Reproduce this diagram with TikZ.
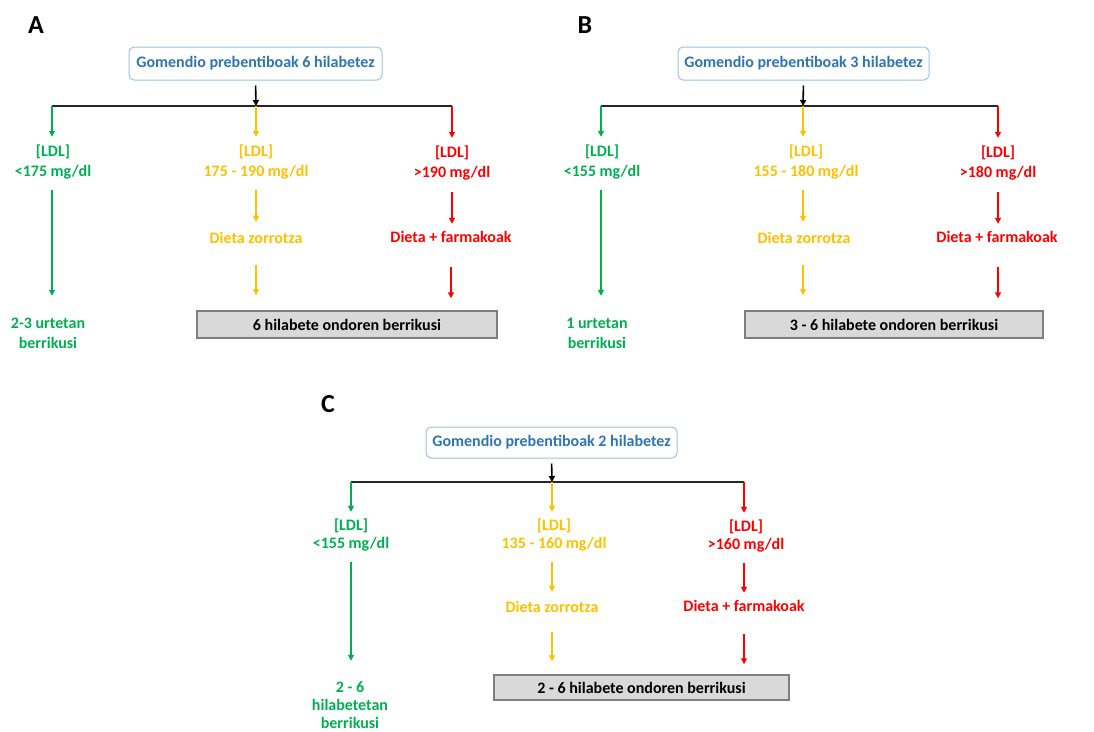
\documentclass[tikz,border=0pt]{standalone}
\usepackage{fontspec}
\setmainfont{Carlito}
\usetikzlibrary{arrows.meta}
\definecolor{cg}{HTML}{00B050}
\definecolor{cy}{HTML}{FFC000}
\definecolor{cr}{HTML}{FF0000}
\definecolor{tblue}{HTML}{2E75B6}
\definecolor{bblue}{HTML}{9DC3E6}
\definecolor{gfill}{HTML}{D9D9D9}
\definecolor{gline}{HTML}{7F7F7F}
\begin{document}
\begin{tikzpicture}[x=1pt,y=-1pt,
  txt/.style={font=\bfseries\fontsize{16}{20}\selectfont, align=center, inner sep=0pt, minimum height=40pt},
  txtc/.style={font=\bfseries\fontsize{16}{18}\selectfont, align=center, inner sep=0pt, minimum height=36pt},
  one/.style={minimum height=20pt},
  panel/.style={font=\bfseries\fontsize{26}{30}\selectfont, inner sep=0pt},
  topbox/.style={draw=bblue, line width=1pt, rounded corners=5pt, fill=white, text=tblue,
    font=\bfseries\fontsize{16}{20}\selectfont, inner sep=0pt, minimum height=33pt},
  graybox/.style={draw=gline, line width=1.5pt, fill=gfill, text=black,
    font=\bfseries\fontsize{16}{20}\selectfont, inner sep=0pt, minimum height=27pt},
  arr/.style={-{Triangle[length=6pt,width=6pt]}, line width=1.6pt},
  hline/.style={line width=1.8pt, black!85}]
\useasboundingbox (0,0) rectangle (1094,731);

%%%%%%%%%%%%%%%% Panel A
\node[panel] (pA) at (36,25) {A};
\node[topbox, minimum width=253pt] (tA) at (255.5,63.5) {Gomendio prebentiboak 6 hilabetez};
\coordinate (jA) at (256,106);
\coordinate (lA) at (52,106);
\coordinate (rA) at (452,106);
\draw[hline] (lA) -- (rA);
\draw[arr, black, shorten <=5pt] (tA.south) -- (jA);
\node[txt, text=cg] (gA1) at (53,162) {[LDL]\\<175 mg/dl};
\node[txt, text=cy] (yA1) at (256,162) {[LDL]\\175 - 190 mg/dl};
\node[txt, text=cr] (rA1) at (452,163) {[LDL]\\>190 mg/dl};
\node[txt, one, text=cy] (yA2) at (256,238) {Dieta zorrotza};
\node[txt, one, text=cr] (rA2) at (451,237) {Dieta + farmakoak};
\node[graybox, minimum width=300pt] (bA) at (347,324.5) {6 hilabete ondoren berrikusi};
\node[txt, text=cg] (gA2) at (48,333.5) {2-3 urtetan\\berrikusi};
\draw[arr, cg, shorten >=5pt] (lA) -- (lA |- gA1.north);
\draw[arr, cy, shorten >=5pt] (jA) -- (jA |- yA1.north);
\draw[arr, cr, shorten >=5pt] (rA) -- (rA |- rA1.north);
\draw[arr, cg, shorten <=8pt, shorten >=17.5pt] (lA |- gA1.south) -- (lA |- gA2.north);
\draw[arr, cy, shorten <=8pt, shorten >=6pt] (jA |- yA1.south) -- (jA |- yA2.north);
\draw[arr, cr, shorten <=9pt, shorten >=3pt] (rA1.south) -- (rA1.south |- rA2.north);
\draw[arr, cy, shorten <=17pt, shorten >=15pt] (yA2.south) -- (yA2.south |- bA.north);
\draw[arr, cr, shorten <=20pt, shorten >=12pt] (rA2.south) -- (rA2.south |- bA.north);

%%%%%%%%%%%%%%%% Panel B
\node[panel] (pB) at (585,25) {B};
\node[topbox, minimum width=251pt] (tB) at (803.5,63.5) {Gomendio prebentiboak 3 hilabetez};
\coordinate (jB) at (803,106);
\coordinate (lB) at (601,106);
\coordinate (rB) at (998,106);
\draw[hline] (lB) -- (rB);
\draw[arr, black, shorten <=5pt] (tB.south) -- (jB);
\node[txt, text=cg] (gB1) at (602,162) {[LDL]\\<155 mg/dl};
\node[txt, text=cy] (yB1) at (806,162) {[LDL]\\155 - 180 mg/dl};
\node[txt, text=cr] (rB1) at (998,163) {[LDL]\\>180 mg/dl};
\node[txt, one, text=cy] (yB2) at (804,238) {Dieta zorrotza};
\node[txt, one, text=cr] (rB2) at (997,237) {Dieta + farmakoak};
\node[graybox, minimum width=298pt] (bB) at (894,324.5) {3 - 6 hilabete ondoren berrikusi};
\node[txt, text=cg] (gB2) at (597,333.5) {1 urtetan\\berrikusi};
\draw[arr, cg, shorten >=5pt] (lB) -- (lB |- gB1.north);
\draw[arr, cy, shorten >=5pt] (jB) -- (jB |- yB1.north);
\draw[arr, cr, shorten >=5pt] (rB) -- (rB |- rB1.north);
\draw[arr, cg, shorten <=8pt, shorten >=17.5pt] (lB |- gB1.south) -- (lB |- gB2.north);
\draw[arr, cy, shorten <=8pt, shorten >=6pt] (jB |- yB1.south) -- (jB |- yB2.north);
\draw[arr, cr, shorten <=9pt, shorten >=3pt] (rB |- rB1.south) -- (rB |- rB2.north);
\draw[arr, cy, shorten <=17pt, shorten >=15pt] (jB |- yB2.south) -- (jB |- bB.north);
\draw[arr, cr, shorten <=20pt, shorten >=12pt] (rB |- rB2.south) -- (rB |- bB.north);

%%%%%%%%%%%%%%%% Panel C
\node[panel] (pC) at (328,404) {C};
\node[topbox, minimum width=251pt, minimum height=31pt] (tC) at (551.5,442.5) {Gomendio prebentiboak 2 hilabetez};
\coordinate (jC) at (552,482);
\coordinate (lC) at (351,482);
\coordinate (rC) at (744,482);
\draw[hline] (lC) -- (rC);
\draw[arr, black, shorten <=5pt] (tC.south) -- (jC);
\node[txtc, text=cg] (gC1) at (351,535) {[LDL]\\<155 mg/dl};
\node[txtc, text=cy] (yC1) at (554,535) {[LDL]\\135 - 160 mg/dl};
\node[txtc, text=cr] (rC1) at (746,536) {[LDL]\\>160 mg/dl};
\node[txtc, one, text=cy] (yC2) at (552,607) {Dieta zorrotza};
\node[txtc, one, text=cr] (rC2) at (744,606) {Dieta + farmakoak};
\node[graybox, minimum width=295pt, minimum height=25pt] (bC) at (641.5,687.5) {2 - 6 hilabete ondoren berrikusi};
\node[txtc, minimum height=54pt, text=cg] (gC2) at (350,705) {2 - 6\\hilabetetan\\berrikusi};
\draw[arr, cg, shorten >=5pt] (lC) -- (lC |- gC1.north);
\draw[arr, cy, shorten >=5pt] (jC) -- (jC |- yC1.north);
\draw[arr, cr, shorten >=5pt] (rC) -- (rC |- rC1.north);
\draw[arr, cg, shorten <=9pt, shorten >=17pt] (lC |- gC1.south) -- (lC |- gC2.north);
\draw[arr, cy, shorten <=9pt, shorten >=5pt] (jC |- yC1.south) -- (jC |- yC2.north);
\draw[arr, cr, shorten <=9pt, shorten >=3pt] (rC |- rC1.south) -- (rC |- rC2.north);
\draw[arr, cy, shorten <=15pt, shorten >=13pt] (jC |- yC2.south) -- (jC |- bC.north);
\draw[arr, cr, shorten <=18pt, shorten >=10pt] (rC |- rC2.south) -- (rC |- bC.north);
\end{tikzpicture}
\end{document}
